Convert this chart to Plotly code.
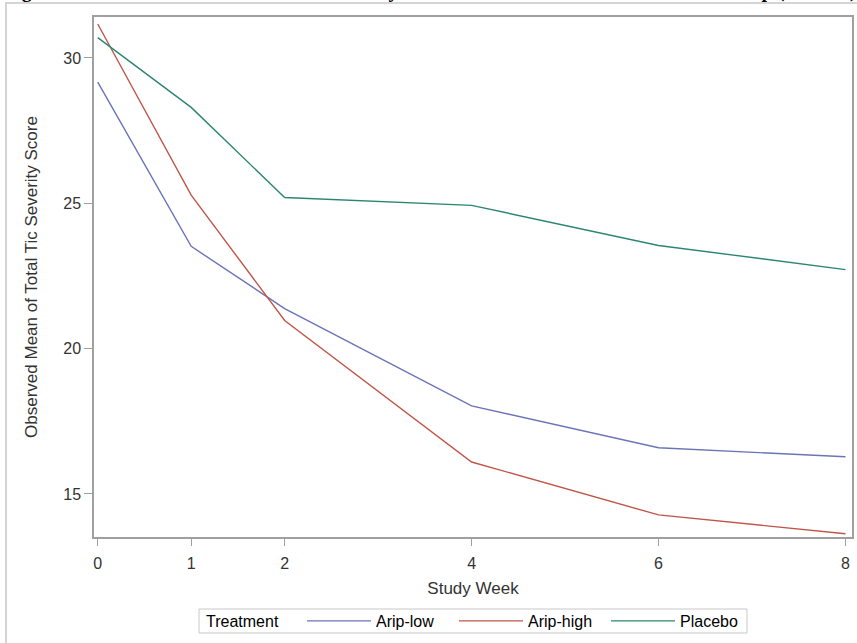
import plotly.graph_objects as go

weeks = [0, 1, 2, 4, 6, 8]
arip_low = [29.17, 23.52, 21.38, 18.03, 16.59, 16.28]
arip_high = [31.17, 25.28, 20.97, 16.10, 14.28, 13.63]
placebo = [30.70, 28.30, 25.20, 24.93, 23.55, 22.72]

series_names = ["Arip-low", "Arip-high", "Placebo"]
series_values = [arip_low, arip_high, placebo]
series_colors = ["#6B74B8", "#C0564A", "#2A8670"]

x_ticks = [0, 1, 2, 4, 6, 8]
y_ticks = [15, 20, 25, 30]

legend_title = "Treatment"
title_text = "Figure 2. Observed Mean of Total Tic Severity Score Over Time in Each Treatment Group (ITT Set)"

fig = go.Figure()
for name, vals, col in zip(series_names, series_values, series_colors):
    fig.add_trace(go.Scatter(x=weeks, y=vals, mode="lines", name=name,
                             line=dict(color=col, width=1.4)))

W, H = 857, 643
L, R, T, B = 94, 5, 17, 106
pw = W - L - R
ph = H - T - B

def px_x(px):
    return (px - L) / pw

def px_y(py):
    return (H - B - py) / ph

fig.update_layout(
    width=W, height=H,
    margin=dict(l=L, r=R, t=T, b=B, autoexpand=False),
    paper_bgcolor="white", plot_bgcolor="white",
    font=dict(family="Arial, Liberation Sans, sans-serif", color="#333333"),
    showlegend=True,
    legend=dict(
        orientation="h", x=px_x(302), xanchor="left", y=px_y(621), yanchor="middle",
        font=dict(size=16, color="#000000"),
        borderwidth=0, bgcolor="rgba(0,0,0,0)",
        itemwidth=64, entrywidth=73,
        tracegroupgap=0, valign="middle",
    ),
    xaxis=dict(
        range=[-0.04, 8.07], tickmode="array", tickvals=x_ticks,
        ticks="outside", ticklen=7, tickcolor="#a0a0a0",
        ticklabelstandoff=4,
        showgrid=False, zeroline=False, showline=True, linecolor="#a0a0a0",
        mirror=True, linewidth=1.5,
        tickfont=dict(size=16, color="#333333"),
        title=dict(text="Study Week", font=dict(size=17, color="#333333"), standoff=11),
    ),
    yaxis=dict(
        range=[13.52, 31.41], tickmode="array", tickvals=y_ticks,
        ticks="outside", ticklen=8, tickcolor="#a0a0a0",
        showgrid=False, zeroline=False, showline=True, linecolor="#a0a0a0",
        mirror=True, linewidth=1.5,
        tickfont=dict(size=16, color="#333333"),
        title=dict(text="Observed Mean of Total Tic Severity Score",
                   font=dict(size=17, color="#333333"), standoff=21),
    ),
    shapes=[
        dict(type="rect", xref="paper", yref="paper",
             x0=px_x(6), x1=px_x(858), y0=px_y(650), y1=px_y(3),
             line=dict(color="#c8c8c8", width=1.5), layer="below"),
        dict(type="rect", xref="paper", yref="paper",
             x0=px_x(199), x1=px_x(747), y0=px_y(633), y1=px_y(609),
             line=dict(color="#c8c8c8", width=1), layer="below"),
    ],
    annotations=[
        dict(text="<b>" + title_text + "</b>", xref="paper", yref="paper",
             x=px_x(430), y=px_y(4), xanchor="center", yanchor="bottom",
             showarrow=False,
             font=dict(family="Liberation Serif, Times New Roman, serif",
                       size=20, color="#000000")),
        dict(text=legend_title, xref="paper", yref="paper",
             x=px_x(204), y=px_y(621), xanchor="left", yanchor="middle",
             showarrow=False, font=dict(size=16, color="#000000")),
    ],
)

fig.write_html("out.html")
